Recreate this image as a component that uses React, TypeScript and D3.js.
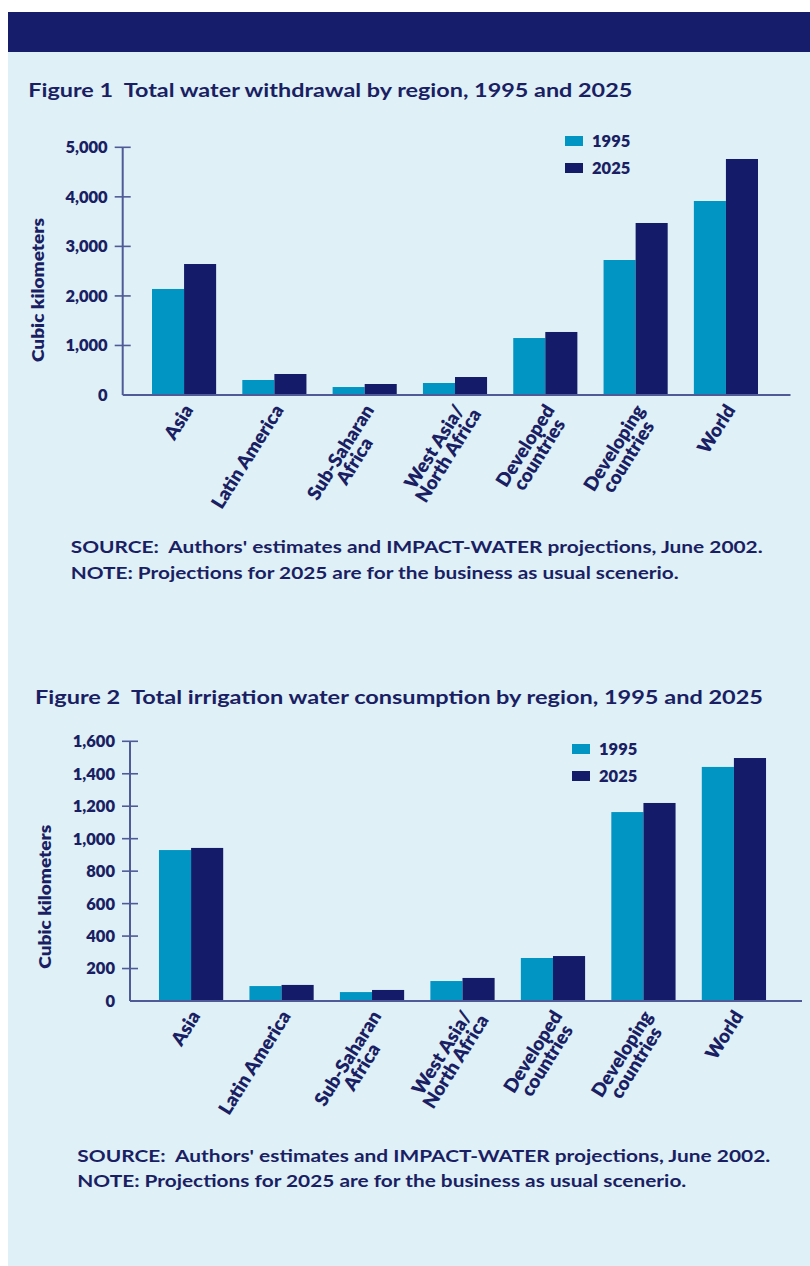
import React, { useEffect, useRef } from "react";
import * as d3 from "d3";

const categories = [
  "Asia",
  "Latin America",
  "Sub-Saharan Africa",
  "West Asia/North Africa",
  "Developed countries",
  "Developing countries",
  "World",
];
const categoryLines = [
  ["Asia"],
  ["Latin America"],
  ["Sub-Saharan", "Africa"],
  ["West Asia/", "North Africa"],
  ["Developed", "countries"],
  ["Developing", "countries"],
  ["World"],
];
const seriesNames = ["1995", "2025"];

const withdrawal1995 = [2140, 303, 161, 242, 1150, 2725, 3916];
const withdrawal2025 = [2644, 424, 222, 363, 1272, 3472, 4764];
const withdrawalTicks = [0, 1000, 2000, 3000, 4000, 5000];

const irrigation1995 = [930, 92, 55, 123, 265, 1164, 1442];
const irrigation2025 = [943, 99, 68, 142, 277, 1220, 1497];
const irrigationTicks = [0, 200, 400, 600, 800, 1000, 1200, 1400, 1600];

const title1 = "Figure 1  Total water withdrawal by region, 1995 and 2025";
const title2 = "Figure 2  Total irrigation water consumption by region, 1995 and 2025";
const yAxisTitle = "Cubic kilometers";
const sourceText = "SOURCE:  Authors' estimates and IMPACT-WATER projections, June 2002.";
const noteText = "NOTE: Projections for 2025 are for the business as usual scenerio.";

const BG = "#DFF0F7";
const BANNER = "#161E6B";
const C1995 = "#0095C3";
const C2025 = "#141B69";
const TEXT = "#1A1F63";
const AXIS = "#4F5A97";
const FONT = "Lato, 'Open Sans', sans-serif";

type Cfg = {
  title: string;
  titleX: number;
  titleY: number;
  titleLen: number;
  axisX: number;
  axisRight: number;
  yBottom: number;
  yTop: number;
  ticks: number[];
  bandStart: number;
  bandEnd: number;
  values: number[][];
  legendX: number;
  legendY: number;
  yTitleX: number;
  yTitleY: number;
  srcX: number;
  srcY: number;
  srcLen: number;
  noteY: number;
  noteLen: number;
};

function drawFigure(root: d3.Selection<SVGGElement, unknown, null, undefined>, cfg: Cfg) {
  const g = root.append("g");
  const maxV = cfg.ticks[cfg.ticks.length - 1];
  const y = d3.scaleLinear().domain([0, maxV]).range([cfg.yBottom, cfg.yTop]);
  const x0 = d3
    .scaleBand<string>()
    .domain(categories)
    .range([cfg.bandStart, cfg.bandEnd])
    .paddingInner(0.29)
    .paddingOuter(0.35);
  const x1 = d3.scaleBand<string>().domain(seriesNames).range([0, x0.bandwidth()]);
  const color = d3.scaleOrdinal<string, string>().domain(seriesNames).range([C1995, C2025]);

  // title
  g.append("text")
    .attr("x", cfg.titleX)
    .attr("y", cfg.titleY)
    .attr("font-family", FONT)
    .attr("font-weight", 700)
    .attr("font-size", 19)
    .attr("fill", TEXT)
    .attr("textLength", cfg.titleLen)
    .attr("lengthAdjust", "spacingAndGlyphs")
    .style("white-space", "pre")
    .text(cfg.title);

  // bars
  categories.forEach((c, i) => {
    seriesNames.forEach((s, j) => {
      const v = cfg.values[j][i];
      g.append("rect")
        .attr("x", (x0(c) as number) + (x1(s) as number))
        .attr("y", y(v))
        .attr("width", x1.bandwidth())
        .attr("height", y(0) - y(v))
        .attr("fill", color(s));
    });
  });

  // y axis
  g.append("line")
    .attr("x1", cfg.axisX)
    .attr("x2", cfg.axisX)
    .attr("y1", y(maxV))
    .attr("y2", y(0))
    .attr("stroke", AXIS)
    .attr("stroke-width", 2);
  cfg.ticks.forEach((t) => {
    if (t !== 0) {
      g.append("line")
        .attr("x1", cfg.axisX - 8)
        .attr("x2", cfg.axisX + 8)
        .attr("y1", y(t))
        .attr("y2", y(t))
        .attr("stroke", AXIS)
        .attr("stroke-width", 1.6);
    }
    g.append("text")
      .attr("x", cfg.axisX - 15)
      .attr("y", y(t))
      .attr("dy", "0.36em")
      .attr("text-anchor", "end")
      .attr("font-family", FONT)
      .attr("font-weight", 800)
      .attr("font-size", 16.5)
      .attr("fill", TEXT)
      .text(d3.format(",")(t));
  });
  // x axis
  g.append("line")
    .attr("x1", cfg.axisX)
    .attr("x2", cfg.axisRight)
    .attr("y1", y(0))
    .attr("y2", y(0))
    .attr("stroke", AXIS)
    .attr("stroke-width", 2);

  // y axis title
  g.append("text")
    .attr("transform", `translate(${cfg.yTitleX},${cfg.yTitleY}) rotate(-90)`)
    .attr("text-anchor", "middle")
    .attr("font-family", FONT)
    .attr("font-weight", 800)
    .attr("font-size", 16.5)
    .attr("fill", TEXT)
    .attr("textLength", 144)
    .attr("lengthAdjust", "spacingAndGlyphs")
    .text(yAxisTitle);

  // category labels
  categories.forEach((c, i) => {
    const cx = (x0(c) as number) + x0.bandwidth() / 2;
    const lg = g
      .append("g")
      .attr("transform", `translate(${cx + 10},${y(0) + 15}) rotate(-58)`);
    const lines = categoryLines[i];
    const first = lg
      .append("text")
      .attr("x", 0)
      .attr("y", 0)
      .attr("text-anchor", "end")
      .attr("font-family", FONT)
      .attr("font-weight", 800)
      .attr("font-size", 19)
      .attr("fill", TEXT)
      .text(lines[0]);
    const len1 = (first.node() as SVGTextElement).getComputedTextLength();
    lines.slice(1).forEach((ln, k) => {
      lg.append("text")
        .attr("x", -len1 / 2)
        .attr("y", 16.5 * (k + 1))
        .attr("text-anchor", "middle")
        .attr("font-family", FONT)
        .attr("font-weight", 800)
        .attr("font-size", 19)
        .attr("fill", TEXT)
        .text(ln);
    });
  });

  // legend
  seriesNames.forEach((s, j) => {
    const ly = cfg.legendY + j * 27;
    g.append("rect")
      .attr("x", cfg.legendX)
      .attr("y", ly)
      .attr("width", 18)
      .attr("height", 10)
      .attr("fill", color(s));
    g.append("text")
      .attr("x", cfg.legendX + 27)
      .attr("y", ly + 11)
      .attr("font-family", FONT)
      .attr("font-weight", 800)
      .attr("font-size", 16.5)
      .attr("fill", TEXT)
      .text(s);
  });

  // footnotes
  g.append("text")
    .attr("x", cfg.srcX)
    .attr("y", cfg.srcY)
    .attr("font-family", FONT)
    .attr("font-weight", 700)
    .attr("font-size", 17.5)
    .attr("fill", TEXT)
    .attr("textLength", cfg.srcLen)
    .attr("lengthAdjust", "spacingAndGlyphs")
    .style("white-space", "pre")
    .text(sourceText);
  g.append("text")
    .attr("x", cfg.srcX)
    .attr("y", cfg.noteY)
    .attr("font-family", FONT)
    .attr("font-weight", 700)
    .attr("font-size", 17.5)
    .attr("fill", TEXT)
    .attr("textLength", cfg.noteLen)
    .attr("lengthAdjust", "spacingAndGlyphs")
    .style("white-space", "pre")
    .text(noteText);
}

export default function App() {
  const ref = useRef<SVGGElement>(null);

  useEffect(() => {
    if (!ref.current) return;
    const root = d3.select(ref.current);
    root.selectAll("*").remove();

    drawFigure(root, {
      title: title1,
      titleX: 28.3,
      titleY: 97.3,
      titleLen: 604,
      axisX: 122.7,
      axisRight: 790.5,
      yBottom: 395,
      yTop: 147.3,
      ticks: withdrawalTicks,
      bandStart: 120.4,
      bandEnd: 789.6,
      values: [withdrawal1995, withdrawal2025],
      legendX: 565,
      legendY: 136,
      yTitleX: 44,
      yTitleY: 290,
      srcX: 70.7,
      srcY: 552.7,
      srcLen: 692,
      noteY: 579.3,
      noteLen: 608,
    });

    drawFigure(root, {
      title: title2,
      titleX: 35,
      titleY: 703.5,
      titleLen: 728,
      axisX: 130,
      axisRight: 802,
      yBottom: 1001,
      yTop: 741.3,
      ticks: irrigationTicks,
      bandStart: 127.3,
      bandEnd: 797.7,
      values: [irrigation1995, irrigation2025],
      legendX: 572,
      legendY: 744,
      yTitleX: 50.5,
      yTitleY: 896.7,
      srcX: 77.3,
      srcY: 1161.5,
      srcLen: 693,
      noteY: 1186.5,
      noteLen: 609,
    });
  }, []);

  return (
    <div style={{ position: "absolute", left: 0, top: 0 }}>
      <svg width={810} height={1266} style={{ display: "block" }}>
        <rect x={0} y={0} width={810} height={1266} fill="#ffffff" />
        <rect x={8} y={52} width={802} height={1214} fill={BG} />
        <rect x={8} y={12} width={802} height={40} fill={BANNER} />
        <g ref={ref} />
      </svg>
    </div>
  );
}
